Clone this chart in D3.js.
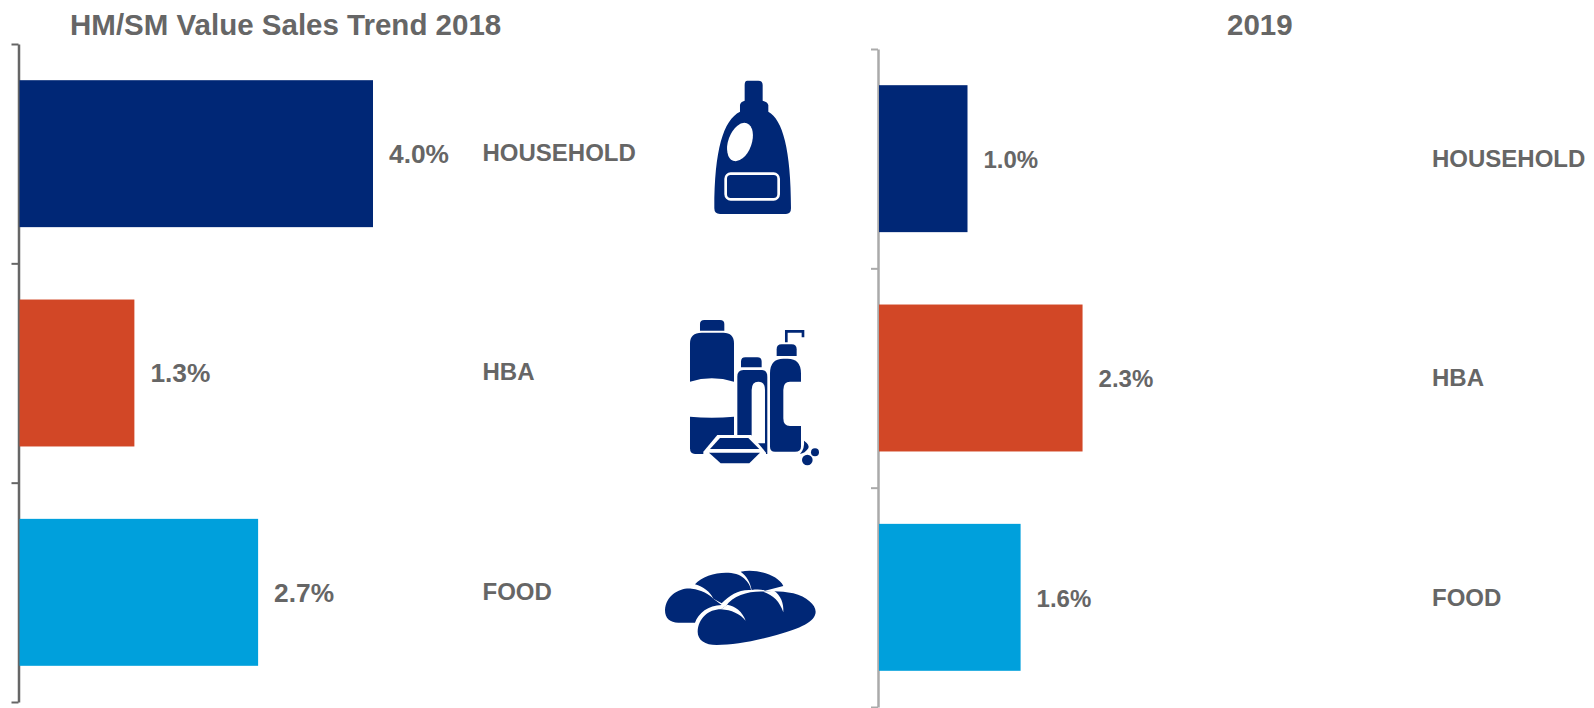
<!DOCTYPE html>
<html>
<head>
	<title>HM/SM Value Sales Trend</title>
	<script src="https://d3js.org/d3.v7.min.js"></script>
	<style>

    html, body { margin: 0; padding: 0; background: #fff; overflow: hidden; }

    text {
      font-family: "Liberation Sans", Arial, sans-serif;
      font-weight: bold;
      fill: #666;
    }

    .title { font-size: 29.5px; }
    .value { font-size: 26.3px; }
    .right .value { font-size: 24px; }
    .label { font-size: 24px; }

    .icon { fill: #002776; }
    .icon .cut { fill: #fff; }
    .icon .line { fill: none; stroke: #fff; }

	</style>
</head>
<body>

<svg id="chart" width="1594" height="708"></svg>

<script>

var categories = ["HOUSEHOLD", "HBA", "FOOD"];
var values2018 = [4.0, 1.3, 2.7];
var values2019 = [1.0, 2.3, 1.6];
var barColors = ["#002776", "#d24726", "#00a0dc"];

var svg = d3.select("#chart");

// one panel = axis line with ticks between the bands, bars, values, category names
function panel(cfg) {
  var g = svg.append("g").attr("class", cfg.name);

  var x = d3.scaleLinear()
      .domain([0, 4])
      .range([cfg.left, cfg.left + cfg.width]);

  var y = d3.scaleBand()
      .domain(categories)
      .range([cfg.top, cfg.top + 658])
      .paddingInner(0.33)
      .paddingOuter(0.165);

  var edges = d3.scalePoint()
      .domain(d3.range(categories.length + 1))
      .range([cfg.top, cfg.top + 658]);

  var axis = g.append("g")
      .attr("transform", "translate(" + cfg.axisX + ",0)")
      .call(d3.axisLeft(edges).tickSize(7).tickSizeOuter(0).tickFormat(""));
  axis.select(".domain").attr("stroke", cfg.axisColor).attr("stroke-width", 2.5);
  axis.selectAll(".tick line").attr("stroke", cfg.axisColor).attr("stroke-width", 2);

  g.selectAll("rect")
      .data(cfg.values)
    .enter().append("rect")
      .attr("x", x(0))
      .attr("y", function(d, i) { return y(categories[i]); })
      .attr("width", function(d) { return x(d) - x(0); })
      .attr("height", y.bandwidth())
      .style("fill", function(d, i) { return barColors[i]; });

  g.selectAll(".value")
      .data(cfg.values)
    .enter().append("text")
      .attr("class", "value")
      .attr("x", function(d) { return x(d) + 16; })
      .attr("y", function(d, i) { return y(categories[i]) + y.bandwidth() / 2 + cfg.valueShift; })
      .attr("dy", ".35em")
      .text(function(d) { return d.toFixed(1) + "%"; });

  g.selectAll(".label")
      .data(categories)
    .enter().append("text")
      .attr("class", "label")
      .attr("x", cfg.labelX)
      .attr("y", function(d) { return y(d) + y.bandwidth() / 2 + cfg.labelShift; })
      .attr("dy", ".35em")
      .text(function(d) { return d; });

  g.append("text")
      .attr("class", "title")
      .attr("x", cfg.titleX)
      .attr("y", 35)
      .text(cfg.title);
}

panel({ name: "left", title: "HM/SM Value Sales Trend 2018", titleX: 70, values: values2018,
        left: 19.5, width: 353.5, axisX: 18.5, top: 44, labelX: 482.5, axisColor: "#666",
        valueShift: 0, labelShift: -1 });
panel({ name: "right", title: "2019", titleX: 1227, values: values2019,
        left: 879, width: 354, axisX: 878, top: 49, labelX: 1432, axisColor: "#aaa",
        valueShift: 1, labelShift: 0 });

// icons at 3x and scaled back down
var bottle = svg.append("g").attr("class", "icon").attr("transform", "translate(660,60) scale(0.3333)");
bottle.append("path").attr("d", "M262,62H295Q308,62 308,75V122Q322,125 325,135V155C368,178 393,270 393,445Q393,462 378,462H180Q163,462 163,445C163,270 190,180 240,155V135Q242,125 254,122V75Q254,62 262,62Z");
bottle.append("ellipse").attr("class", "cut").attr("rx", 35).attr("ry", 60)
    .attr("transform", "translate(240,246) rotate(20)");
bottle.append("rect").attr("class", "line").attr("x", 197).attr("y", 341).attr("width", 159).attr("height", 77)
    .attr("rx", 15).attr("stroke-width", 8);

var care = svg.append("g").attr("class", "icon").attr("transform", "translate(660,310) scale(0.3333)");
care.append("path").attr("d", "M120,62V42Q120,30 133,30H180Q193,30 193,42V62Z");
care.append("path").attr("d", "M90,215V100Q90,68 125,68H190Q222,68 222,100V215Q155,195 90,215Z");
care.append("path").attr("d", "M90,320Q155,326 222,320V432H105Q90,432 90,415Z");
care.append("path").attr("d", "M243,172V155Q243,142 256,142H292Q305,142 305,155V172Z");
care.append("path").attr("d", "M232,425V200Q232,180 250,180H305Q322,180 322,200V432H232Z");
care.append("path").attr("class", "cut").attr("d", "M275,400V240Q275,215 295,215Q315,215 315,240V400Z");
care.append("path").attr("d", "M375,97V60H433V82H425V68H383V97Z");
care.append("path").attr("d", "M350,138V118Q350,103 365,103H395Q410,103 410,118V138Z");
care.append("path").attr("d", "M330,190Q330,146 370,146H383Q423,146 423,190V215H390Q370,215 370,240V325Q370,348 390,348H423V410Q423,425 405,425H345Q330,425 330,410Z");
// dish sits on a white patch so it is cut out of the bottles behind it
care.append("path").attr("class", "cut").attr("d", "M172,375H274L318,428V440H130V425Z");
care.append("path").attr("d", "M180,384H265L298,417H150Z");
care.append("path").attr("d", "M147,428H300L268,460H182Z");
care.append("circle").attr("cx", 442).attr("cy", 450).attr("r", 16);
care.append("circle").attr("cx", 465).attr("cy", 427).attr("r", 12);
care.append("path").attr("d", "M432,392Q450,405 445,415Q435,430 420,432Q435,415 432,392Z");

var bread = svg.append("g").attr("class", "icon").attr("transform", "translate(650,550) scale(0.3333)");
bread.append("path").attr("d", "M45,180C48,135 90,112 125,116C155,120 178,132 190,146L215,165C175,165 145,190 135,218H85C60,218 45,205 45,180Z");
bread.append("path").attr("d", "M135,103C165,68 250,55 282,85C295,97 302,110 303,120C265,118 240,135 215,160L190,146C180,125 160,110 135,103Z");
bread.append("path").attr("d", "M272,65C320,55 385,75 400,108L345,122C335,118 320,118 305,120C300,95 290,78 272,65Z");
// front loaf, the two white crescents split it into three lumps
bread.append("path").attr("d", "M143,245C145,205 175,178 213,178L228,168C250,135 300,122 345,125C375,122 400,124 430,130C470,140 497,165 497,185C497,215 450,235 380,255C310,275 250,285 200,285C165,285 143,270 143,245Z");
bread.append("path").attr("class", "cut").attr("d", "M213,178L232,164C255,168 278,185 287,212C270,192 245,180 213,178Z");
bread.append("path").attr("class", "cut").attr("d", "M340,125L372,122C392,135 402,160 400,187C390,155 370,135 340,125Z");

</script>

</body>
</html>
